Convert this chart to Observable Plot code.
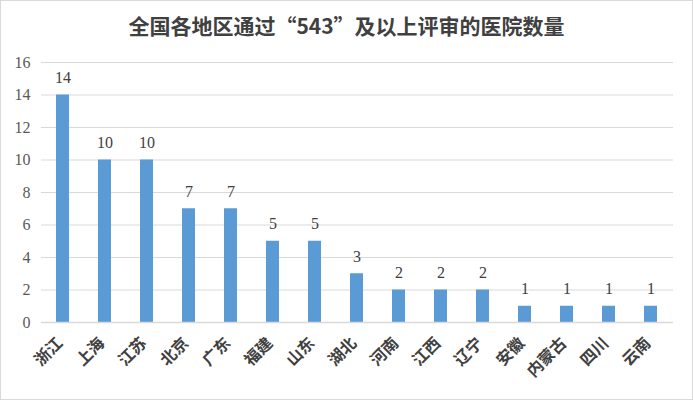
<!DOCTYPE html>
<html>
<head>
<meta charset="utf-8">
<script src="https://cdn.jsdelivr.net/npm/d3@7"></script>
<script src="https://cdn.jsdelivr.net/npm/@observablehq/plot@0.6"></script>
<style>
  html, body { margin: 0; padding: 0; background: #fff; }
  #wrap { position: relative; width: 693px; height: 400px; overflow: hidden; background: #fff; }
  #frame { position: absolute; left: 0; top: 0; width: 691px; height: 398px; border: 1px solid #d9d9d9; pointer-events: none; }
  #title { position: absolute; left: 0; top: 11px; width: 693px; text-align: center;
           font-family: "Noto Sans CJK SC", sans-serif; font-weight: bold; font-size: 21px; line-height: 28px; color: #404040; }
  #chart { position: absolute; left: 0; top: 45px; }
  #chart svg, #chart svg text { font-family: "Liberation Serif", "DejaVu Serif", serif; }
  #chart g[aria-label="y-axis tick label"], #chart g[aria-label="y-axis tick label"] text { font-family: "Liberation Serif", "DejaVu Serif", serif !important; }
  #chart g[aria-label="x-axis tick label"], #chart g[aria-label="x-axis tick label"] text { font-family: "Noto Sans CJK SC", sans-serif !important; font-weight: bold; }
</style>
</head>
<body>
<div id="wrap">
  <div id="title">全国各地区通过“543”及以上评审的医院数量</div>
  <div id="chart"></div>
  <div id="frame"></div>
</div>
<script>
const regions = ["浙江", "上海", "江苏", "北京", "广东", "福建", "山东", "湖北", "河南", "江西", "辽宁", "安徽", "内蒙古", "四川", "云南"];
const counts = [14, 10, 10, 7, 7, 5, 5, 3, 2, 2, 2, 1, 1, 1, 1];
const yTicks = [0, 2, 4, 6, 8, 10, 12, 14, 16];

const data = regions.map((r, i) => ({region: r, count: counts[i]}));

const chart = Plot.plot({
  width: 693,
  height: 355,
  marginTop: 17,
  marginBottom: 78,
  marginLeft: 41,
  marginRight: 20,
  style: {background: "#fff", overflow: "visible", fontFamily: "'Liberation Serif', serif"},
  x: {domain: regions, paddingInner: 0.69, paddingOuter: 0.345, label: null},
  y: {domain: [0, 16], ticks: yTicks, label: null},
  marks: [
    Plot.gridY(yTicks, {stroke: "#d9d9d9", strokeOpacity: 1}),
    Plot.axisY(yTicks, {tickSize: 0, tickPadding: 11, fontSize: 16, fill: "#595959", label: null}),
    Plot.barY(data, {x: "region", y: "count", fill: "#5b9bd5"}),
    Plot.ruleY([0], {stroke: "#d9d9d9", strokeWidth: 1.5}),
    Plot.text(data, {x: "region", y: "count", text: d => String(d.count), dy: -12, lineAnchor: "bottom", fontSize: 16, fill: "#404040"}),
    Plot.axisX({tickSize: 0, tickPadding: 18, dx: -3, tickRotate: -45, fontSize: 16, fill: "#404040", label: null})
  ]
});
document.getElementById("chart").appendChild(chart);
</script>
</body>
</html>
